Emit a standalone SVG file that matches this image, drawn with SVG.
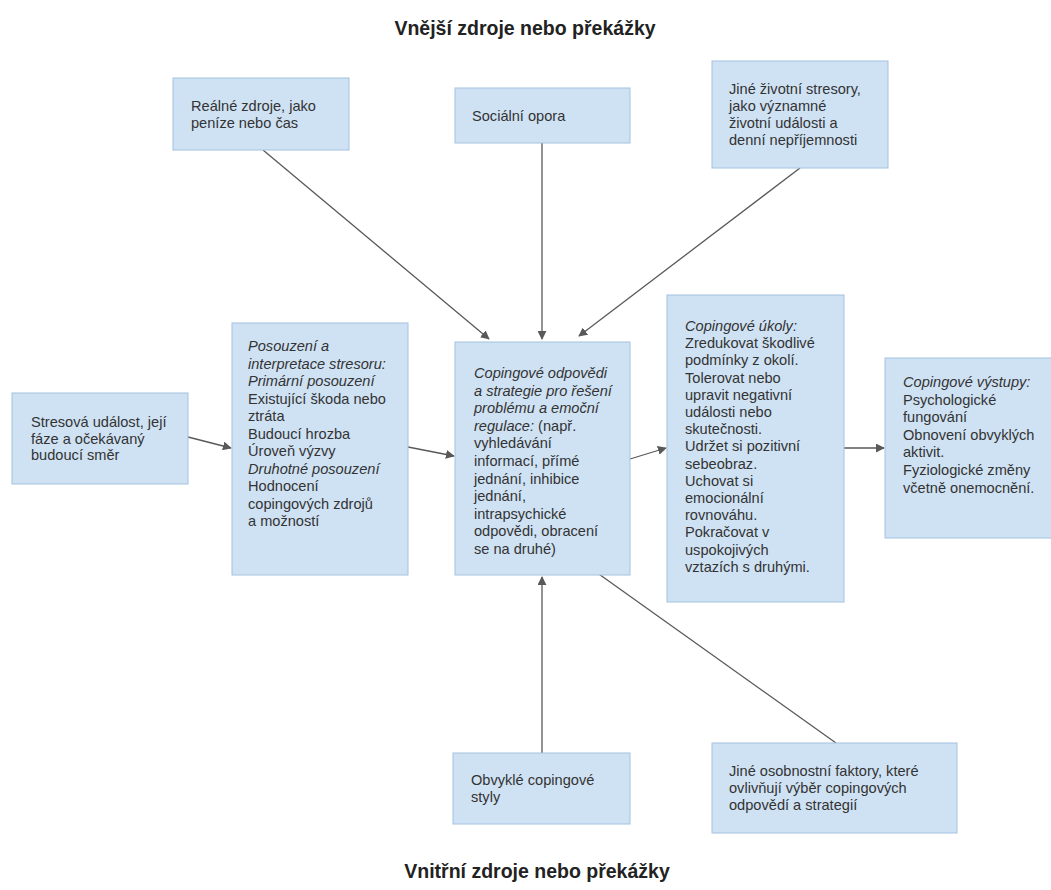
<svg xmlns="http://www.w3.org/2000/svg" width="1051" height="890" viewBox="0 0 1051 890">
<style>
.box{fill:#cfe2f3;stroke:#a4c2e0;stroke-width:1}
.t{font-family:"Liberation Sans",Arial,sans-serif;font-size:14.6px;fill:#333}
.i{font-style:italic}
.title{font-family:"Liberation Sans",Arial,sans-serif;font-size:19.5px;font-weight:bold;fill:#222;text-anchor:middle}
.c{stroke:#595959;stroke-width:1.3;fill:none;marker-end:url(#ah)}
</style>
<defs>
<marker id="ah" viewBox="0 0 10 10" refX="9" refY="5" markerWidth="9" markerHeight="9" markerUnits="userSpaceOnUse" orient="auto">
<path d="M0,0 L10,5 L0,10 z" fill="#595959"/>
</marker>
</defs>
<rect width="1051" height="890" fill="#fff"/>
<text class="title" x="525" y="35">Vnější zdroje nebo překážky</text>
<text class="title" x="537" y="878">Vnitřní zdroje nebo překážky</text>
<g id="connectors">
<line class="c" x1="263" y1="150" x2="489" y2="339"/>
<line class="c" x1="542" y1="143" x2="542" y2="339"/>
<line class="c" x1="800" y1="168" x2="579" y2="336"/>
<line class="c" x1="188" y1="437" x2="231" y2="448"/>
<line class="c" x1="408" y1="447" x2="454" y2="456"/>
<line class="c" x1="630" y1="459" x2="666" y2="448"/>
<line class="c" x1="844" y1="448" x2="884" y2="448"/>
<line class="c" x1="542" y1="753" x2="542" y2="577"/>
<line class="c" x1="836" y1="743" x2="582" y2="562"/>
</g>
<g id="realne">
<rect class="box" x="173" y="78" width="176" height="72"/>
<text class="t" x="191" y="110.5"><tspan x="191">Reálné zdroje, jako</tspan><tspan x="191" dy="17">peníze nebo čas</tspan></text>
</g>
<g id="socialni">
<rect class="box" x="455" y="88" width="175" height="55"/>
<text class="t" x="472" y="120.5">Sociální opora</text>
</g>
<g id="jine-stresory">
<rect class="box" x="712" y="61" width="176" height="107"/>
<text class="t" x="729" y="94"><tspan x="729">Jiné životní stresory,</tspan><tspan x="729" dy="17">jako významné</tspan><tspan x="729" dy="17">životní události a</tspan><tspan x="729" dy="17">denní nepříjemnosti</tspan></text>
</g>
<g id="stresova">
<rect class="box" x="12" y="393" width="176" height="91"/>
<text class="t" x="31" y="427"><tspan x="31">Stresová událost, její</tspan><tspan x="31" dy="16.7">fáze a očekávaný</tspan><tspan x="31" dy="16.7">budoucí směr</tspan></text>
</g>
<g id="posouzeni">
<rect class="box" x="232" y="323" width="176" height="252"/>
<text class="t" x="248" y="351"><tspan x="248" class="i">Posouzení a</tspan><tspan x="248" dy="17.5" class="i">interpretace stresoru:</tspan><tspan x="248" dy="17.5" class="i">Primární posouzení</tspan><tspan x="248" dy="17.5">Existující škoda nebo</tspan><tspan x="248" dy="17.5">ztráta</tspan><tspan x="248" dy="17.5">Budoucí hrozba</tspan><tspan x="248" dy="17.5">Úroveň výzvy</tspan><tspan x="248" dy="17.5" class="i">Druhotné posouzení</tspan><tspan x="248" dy="17.5">Hodnocení</tspan><tspan x="248" dy="17.5">copingových zdrojů</tspan><tspan x="248" dy="17.5">a možností</tspan></text>
</g>
<g id="odpovedi">
<rect class="box" x="455" y="342" width="175" height="233"/>
<text class="t" x="474" y="378"><tspan x="474" class="i">Copingové odpovědi</tspan><tspan x="474" dy="17.6" class="i">a strategie pro řešení</tspan><tspan x="474" dy="17.6" class="i">problému a emoční</tspan><tspan x="474" dy="17.6" class="i">regulace:</tspan><tspan> (např.</tspan><tspan x="474" dy="17.6">vyhledávání</tspan><tspan x="474" dy="17.6">informací, přímé</tspan><tspan x="474" dy="17.6">jednání, inhibice</tspan><tspan x="474" dy="17.6">jednání,</tspan><tspan x="474" dy="17.6">intrapsychické</tspan><tspan x="474" dy="17.6">odpovědi, obracení</tspan><tspan x="474" dy="17.6">se na druhé)</tspan></text>
</g>
<g id="ukoly">
<rect class="box" x="667" y="295" width="177" height="307"/>
<text class="t" x="685" y="331"><tspan x="685" class="i">Copingové úkoly:</tspan><tspan x="685" dy="17.2">Zredukovat škodlivé</tspan><tspan x="685" dy="17.2">podmínky z okolí.</tspan><tspan x="685" dy="17.2">Tolerovat nebo</tspan><tspan x="685" dy="17.2">upravit negativní</tspan><tspan x="685" dy="17.2">události nebo</tspan><tspan x="685" dy="17.2">skutečnosti.</tspan><tspan x="685" dy="17.2">Udržet si pozitivní</tspan><tspan x="685" dy="17.2">sebeobraz.</tspan><tspan x="685" dy="17.2">Uchovat si</tspan><tspan x="685" dy="17.2">emocionální</tspan><tspan x="685" dy="17.2">rovnováhu.</tspan><tspan x="685" dy="17.2">Pokračovat v</tspan><tspan x="685" dy="17.2">uspokojivých</tspan><tspan x="685" dy="17.2">vztazích s druhými.</tspan></text>
</g>
<g id="vystupy">
<rect class="box" x="885" y="358" width="176" height="180"/>
<text class="t" x="903" y="387"><tspan x="903" class="i">Copingové výstupy:</tspan><tspan x="903" dy="17.6">Psychologické</tspan><tspan x="903" dy="17.6">fungování</tspan><tspan x="903" dy="17.6">Obnovení obvyklých</tspan><tspan x="903" dy="17.6">aktivit.</tspan><tspan x="903" dy="17.6">Fyziologické změny</tspan><tspan x="903" dy="17.6">včetně onemocnění.</tspan></text>
</g>
<g id="obvykle">
<rect class="box" x="453" y="753" width="177" height="71"/>
<text class="t" x="471" y="785"><tspan x="471">Obvyklé copingové</tspan><tspan x="471" dy="17">styly</tspan></text>
</g>
<g id="jine-osobnostni">
<rect class="box" x="712" y="743" width="245" height="90"/>
<text class="t" x="729" y="776"><tspan x="729">Jiné osobnostní faktory, které</tspan><tspan x="729" dy="17">ovlivňují výběr copingových</tspan><tspan x="729" dy="17">odpovědí a strategií</tspan></text>
</g>
</svg>
